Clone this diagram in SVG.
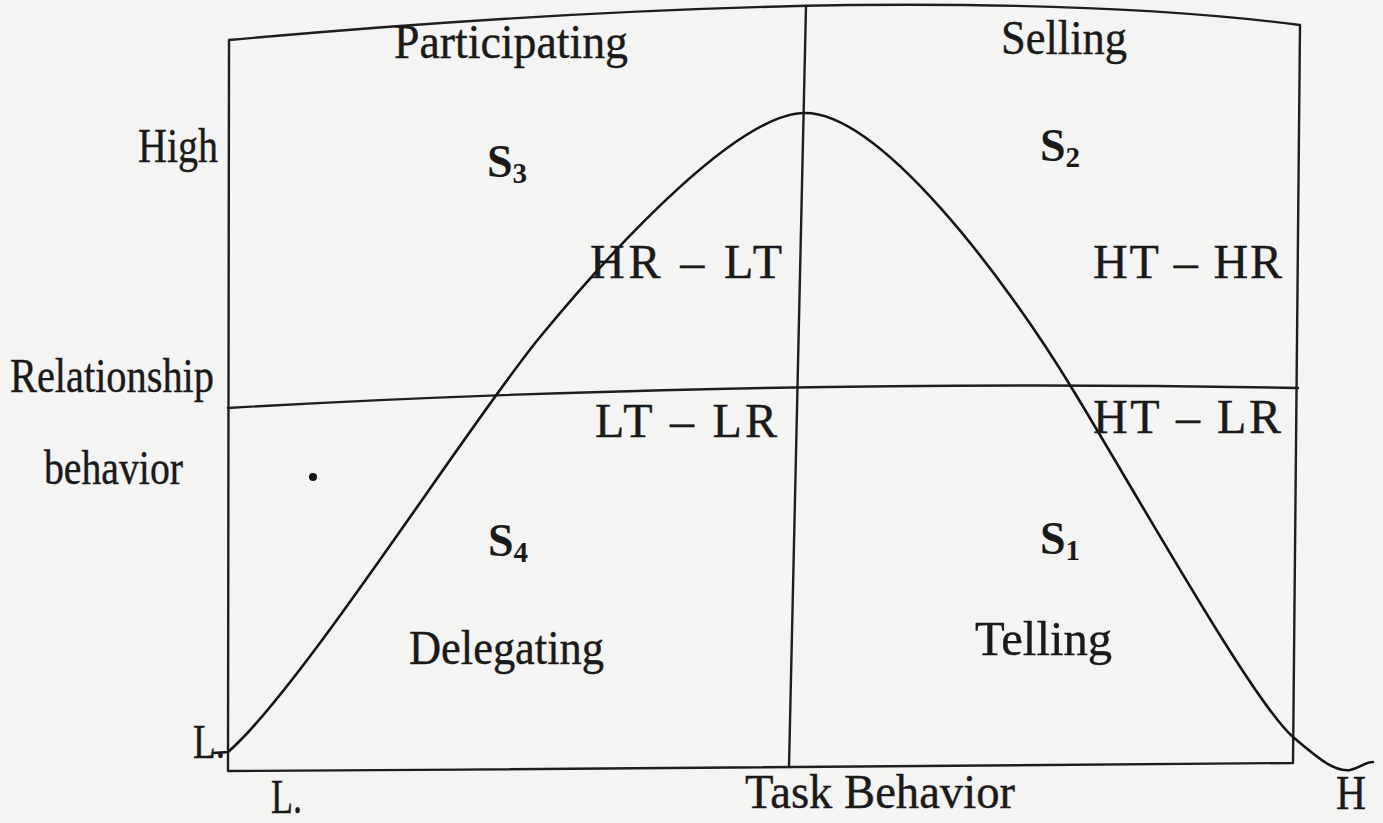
<svg xmlns="http://www.w3.org/2000/svg" width="1383" height="823" viewBox="0 0 1383 823">
<style>
.ln{fill:none;stroke:#1e1e1e;stroke-width:2.4;stroke-linecap:round;stroke-linejoin:round}
.cv{fill:none;stroke:#151515;stroke-width:2.6;stroke-linecap:round}
.t{font-family:"Liberation Serif","Times New Roman",serif;font-size:48px;fill:#1a1a1a;stroke:#1a1a1a;stroke-width:0.4}
.s{font-family:"Liberation Serif","Times New Roman",serif;font-size:46px;font-weight:bold;fill:#1a1a1a}
.sub{font-size:29px}
</style>
<rect x="0" y="0" width="1383" height="823" fill="#f4f4f2"/>
<g id="frame">
<path class="ln" d="M229,40 C450,20 650,8 850,5 C1050,3 1200,12 1300,25 L1293,763 C1000,766 600,769 228,771 Z"/>
<path class="ln" d="M806,6 L789,767"/>
<path class="ln" d="M228,408 C500,392 900,380 1298,388"/>
</g>
<g id="connectors">
<path class="cv" d="M213,753 L228,752 C300,690 470,422 540,337 C620,240 740,113 805,113 C880,113 1003,275 1073,390 C1140,500 1253,702 1293,737 C1320,760 1335,772 1350,770 C1360,768 1365,762 1373,762"/>
<circle cx="313" cy="477" r="4" fill="#111"/>
</g>
<g id="labels">
<text class="t" x="394" y="58" textLength="234" lengthAdjust="spacingAndGlyphs">Participating</text>
<text class="t" x="1001" y="54" textLength="126" lengthAdjust="spacingAndGlyphs">Selling</text>
<text class="t" x="138" y="162" textLength="80" lengthAdjust="spacingAndGlyphs">High</text>
<text class="t" x="10" y="392" textLength="204" lengthAdjust="spacingAndGlyphs">Relationship</text>
<text class="t" x="44" y="484" textLength="139" lengthAdjust="spacingAndGlyphs">behavior</text>
<text class="t" x="590" y="278" textLength="192">HR – LT</text>
<text class="t" x="1093" y="278" textLength="189">HT – HR</text>
<text class="t" x="595" y="437" textLength="182">LT – LR</text>
<text class="t" x="1093" y="433" textLength="188">HT – LR</text>
<text class="t" x="409" y="664" textLength="195" lengthAdjust="spacingAndGlyphs">Delegating</text>
<text class="t" x="975" y="655" textLength="137" lengthAdjust="spacingAndGlyphs">Telling</text>
<text class="t" x="193" y="758" textLength="32" lengthAdjust="spacingAndGlyphs">L.</text>
<text class="t" x="271" y="813" textLength="31" lengthAdjust="spacingAndGlyphs">L.</text>
<text class="t" x="745" y="808" textLength="270" lengthAdjust="spacingAndGlyphs">Task Behavior</text>
<text class="t" x="1336" y="809" textLength="30" lengthAdjust="spacingAndGlyphs">H</text>
</g>
<g id="S3"><text class="s" x="487" y="177">S<tspan class="sub" dy="6">3</tspan></text></g>
<g id="S2"><text class="s" x="1040" y="161">S<tspan class="sub" dy="6">2</tspan></text></g>
<g id="S4"><text class="s" x="488" y="556">S<tspan class="sub" dy="6">4</tspan></text></g>
<g id="S1"><text class="s" x="1040" y="554">S<tspan class="sub" dy="6">1</tspan></text></g>
</svg>
